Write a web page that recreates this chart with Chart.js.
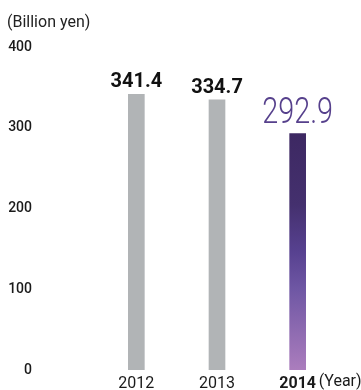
<!DOCTYPE html>
<html lang="en">
<head>
  <meta charset="UTF-8">
  <title>Billion yen by year</title>
  <script src="https://cdn.jsdelivr.net/npm/chart.js"></script>
  <style>
    html, body {
      margin: 0;
      padding: 0;
      background: #ffffff;
    }
    #wrap {
      width: 361px;
      height: 390px;
    }
  </style>
</head>
<body>
  <div id="wrap"><canvas id="barChart"></canvas></div>

  <script>
    // data
    const years = ['2012', '2013', '2014'];
    const values = [341.4, 334.7, 292.9];
    const valueLabels = ['341.4', '334.7', '292.9'];
    const yTicks = [0, 100, 200, 300, 400];

    const GRAY = '#b1b4b6';

    // gradient for the last bar
    function purpleFill(context) {
      const chart = context.chart;
      const area = chart.chartArea;
      if (!area) return '#5a4590';
      const yScale = chart.scales.y;
      const top = yScale.getPixelForValue(values[2]);
      const g = chart.ctx.createLinearGradient(0, top, 0, area.bottom);
      g.addColorStop(0, '#3d2862');
      g.addColorStop(0.3, '#44306e');
      g.addColorStop(0.5, '#574190');
      g.addColorStop(0.66, '#6f57a4');
      g.addColorStop(1, '#ab7dbd');
      return g;
    }

    // labels above bars, unit text, (Year)
    const extraText = {
      id: 'extraText',
      afterDatasetsDraw(chart) {
        const ctx = chart.ctx;
        const meta = chart.getDatasetMeta(0);
        ctx.save();
        ctx.textAlign = 'center';
        ctx.textBaseline = 'alphabetic';
        meta.data.forEach((bar, i) => {
          if (i < 2) {
            ctx.fillStyle = '#111111';
            ctx.font = 'bold 20px Roboto';
            ctx.fillText(valueLabels[i], bar.x, bar.y - 7);
          } else {
            ctx.save();
            ctx.fillStyle = '#56408c';
            ctx.font = '300 36px Roboto';
            ctx.translate(bar.x, bar.y - 10);
            ctx.scale(0.8, 1);
            ctx.fillText(valueLabels[i], 0, 0);
            ctx.restore();
          }
        });

        // unit
        ctx.textAlign = 'left';
        ctx.fillStyle = '#222222';
        ctx.font = '16px Roboto';
        ctx.fillText('(Billion yen)', 7, 27);

        // (Year) after last tick label
        const xs = chart.scales.x;
        const px = xs.getPixelForValue(2);
        ctx.font = '16px Roboto';
        ctx.textBaseline = 'middle';
        ctx.fillStyle = '#1a1a1a';
        ctx.fillText('(Year)', px + 21, 382);
        ctx.restore();
      }
    };

    new Chart(document.getElementById('barChart'), {
      type: 'bar',
      data: {
        labels: years,
        datasets: [{
          data: values,
          backgroundColor: (c) => c.dataIndex === 2 ? purpleFill(c) : GRAY,
          borderWidth: 0,
          barThickness: 16
        }]
      },
      options: {
        responsive: true,
        maintainAspectRatio: false,
        animation: false,
        layout: {
          padding: { top: 47, left: 8, right: 23, bottom: 0 }
        },
        plugins: {
          legend: { display: false },
          tooltip: { enabled: false }
        },
        scales: {
          x: {
            grid: { display: false, drawTicks: false },
            border: { display: false },
            afterFit: (axis) => {
              axis.height = 20;
            },
            ticks: {
              color: '#1a1a1a',
              padding: 4,
              maxRotation: 0,
              font: (c) => c.index === 2
                ? { family: 'Roboto', size: 16, weight: 'bold' }
                : { family: 'Roboto', size: 16 }
            }
          },
          y: {
            min: 0,
            max: 400,
            afterBuildTicks: (axis) => {
              axis.ticks = yTicks.map(v => ({ value: v }));
            },
            afterFit: (axis) => {
              axis.width = 88;
              axis.paddingTop = 0;
              axis.paddingBottom = 0;
            },
            grid: { display: false, drawTicks: false },
            border: { display: false },
            ticks: {
              color: '#1a1a1a',
              padding: 64,
              font: { family: 'Roboto', size: 14, weight: '500' }
            }
          }
        }
      },
      plugins: [extraText]
    });
  </script>
</body>
</html>
